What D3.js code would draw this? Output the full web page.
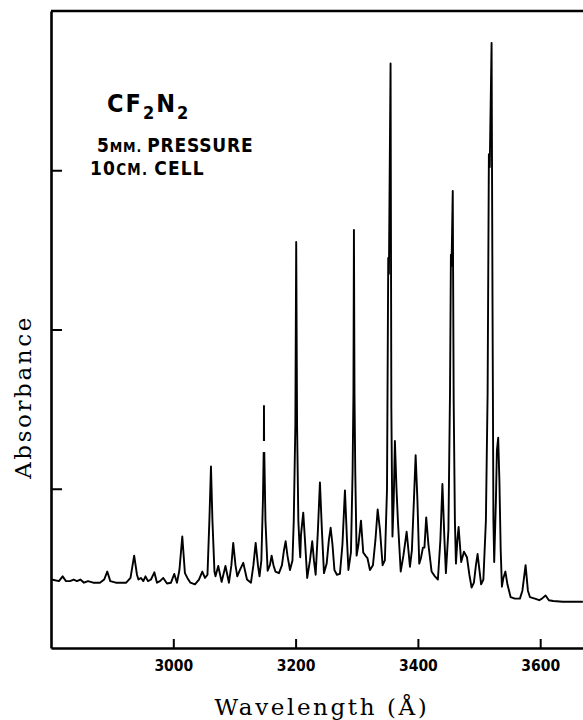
<!DOCTYPE html>
<html>
<head>
<meta charset="utf-8">
<script src="https://cdn.jsdelivr.net/npm/d3@7"></script>
<style>
  body { margin: 0; background: #fff; }
  .lbl { font-family: "DejaVu Sans Condensed", "DejaVu Sans", sans-serif; font-weight: bold; fill: #000; }
  .ttl { font-family: "DejaVu Serif", "Liberation Serif", serif; fill: #000; }
</style>
</head>
<body>
<div id="chart"></div>
<script>
// trace: wavelength in Angstrom, absorbance in arbitrary units (null = break in the ink)
var wavelength = [
  2801, 2813, 2819, 2824.5, 2831, 2837, 2842.5, 2848, 2854, 2860.5, 2869, 2880, 2887, 2892, 2897, 2906,
  2923, 2930, 2936, 2940.6, 2943, 2947, 2951, 2954.5, 2958.6, 2963.5, 2969, 2973.3, 2978.2, 2983.6, 2989.7,
  2996.2, 3001.6, 3006, 3010, 3014.7, 3019, 3023, 3028, 3035.4, 3042, 3047.4, 3051.8, 3055.9, 3059, 3061.6,
  3064, 3067.3, 3069, 3073.5, 3079, 3085.3, 3091, 3095, 3098, 3101.7, 3104.6, 3109, 3114.4, 3120.5, 3127,
  3131, 3134.7, 3138.4, 3141, 3144, 3146.6, 3147.8, 3147.9, 3148.1, 3148.3, 3148.5, 3148.7, 3148.8, 3150.7,
  3154.3, 3158, 3160.8, 3163.8, 3167, 3172.8, 3177.7, 3181, 3183.7, 3186.7, 3190.8, 3194.9, 3197, 3199.6,
  3201, 3202.4, 3204.5, 3206.3, 3207.6, 3208.8, 3212.5, 3215.3, 3219, 3223.5, 3227.2, 3230, 3232.8, 3236.5,
  3239.8, 3243, 3246.4, 3250.8, 3254.5, 3257.3, 3260.3, 3263.5, 3267.6, 3272.5, 3276.6, 3280.7, 3284, 3286.4,
  3290.5, 3293.2, 3294.6, 3295.4, 3296.3, 3297.6, 3299.8, 3302.8, 3306.9, 3310.6, 3314.2, 3317.5, 3321.6,
  3326.5, 3330.6, 3334.2, 3338, 3342.3, 3346, 3349.5, 3351.5, 3352.6, 3355.3, 3356.6, 3358.4, 3360.5, 3362.4,
  3364.9, 3367.3, 3371.9, 3376.3, 3381.6, 3384.5, 3387, 3390.2, 3393.5, 3396.3, 3399.2, 3402.2, 3405, 3408.2,
  3410.7, 3413.6, 3417.2, 3422.4, 3427.8, 3432.7, 3436.8, 3440.1, 3443.4, 3445.8, 3449.9, 3452.5, 3454, 3455,
  3457, 3458.5, 3460.5, 3462.2, 3464.6, 3466.6, 3468.7, 3470.8, 3475.3, 3480.2, 3484.2, 3487.8, 3491.6, 3494.9,
  3497.6, 3500.6, 3503.4, 3507.1, 3511.2, 3514, 3516.1, 3517.5, 3520.5, 3522, 3523.5, 3524.8, 3527.6, 3529.2,
  3531.3, 3533.3, 3535.4, 3537.4, 3539.8, 3543.1, 3546.4, 3551.6, 3558.6, 3566.8, 3570.9, 3576.1, 3579.9,
  3583.2, 3591.3, 3598.4, 3602.8, 3608.8, 3614.2, 3621.3, 3637.1, 3669.8
];
var absorbance = [
  0.43, 0.42, 0.45, 0.42, 0.42, 0.43, 0.42, 0.43, 0.41, 0.42, 0.41, 0.41, 0.43, 0.48, 0.42, 0.41,
  0.41, 0.44, 0.58, 0.46, 0.43, 0.44, 0.42, 0.45, 0.42, 0.43, 0.475, 0.41, 0.42, 0.44, 0.405,
  0.41, 0.465, 0.41, 0.49, 0.70, 0.47, 0.44, 0.41, 0.40, 0.43, 0.48, 0.44, 0.46, 0.80, 1.14,
  0.80, 0.48, 0.45, 0.515, 0.415, 0.515, 0.41, 0.52, 0.66, 0.52, 0.45, 0.49, 0.535, 0.43, 0.41,
  0.52, 0.66, 0.52, 0.45, 0.55, 0.93, 1.23, null, 1.30, 1.52, 1.30, null, 1.23, 0.80,
  0.485, 0.52, 0.58, 0.52, 0.48, 0.47, 0.52, 0.615, 0.67, 0.58, 0.49, 0.55, 0.80, 1.40,
  2.55, 1.40, 0.80, 0.65, 0.57, 0.71, 0.85, 0.68, 0.44, 0.55, 0.67, 0.55, 0.46, 0.74,
  1.04, 0.74, 0.47, 0.53, 0.68, 0.755, 0.65, 0.49, 0.46, 0.465, 0.65, 0.99, 0.68, 0.49,
  0.60, 1.10, 1.60, 2.625, 1.60, 1.10, 0.58, 0.65, 0.80, 0.60, 0.58, 0.565, 0.49,
  0.52, 0.68, 0.87, 0.74, 0.52, 0.55, 1.00, 2.45, 2.35, 3.67, 1.50, 0.70, 0.93, 1.30,
  1.01, 0.80, 0.48, 0.58, 0.73, 0.615, 0.51, 0.615, 0.93, 1.21, 0.93, 0.53, 0.565, 0.63,
  0.63, 0.82, 0.65, 0.48, 0.45, 0.43, 0.68, 1.03, 0.68, 0.47, 0.74, 1.60, 2.47, 2.40,
  2.87, 1.56, 0.80, 0.53, 0.68, 0.76, 0.65, 0.54, 0.605, 0.57, 0.46, 0.38, 0.41, 0.52,
  0.59, 0.49, 0.40, 0.43, 0.80, 1.60, 3.10, 3.02, 3.80, 2.19, 0.80, 0.54, 0.93, 1.24,
  1.32, 1.05, 0.615, 0.385, 0.44, 0.48, 0.40, 0.32, 0.31, 0.31, 0.36, 0.52, 0.36,
  0.32, 0.31, 0.30, 0.31, 0.33, 0.30, 0.295, 0.29, 0.29
];
var xTicks = [3000, 3200, 3400, 3600];
var yTicks = [1, 2, 3];

var margin = {top: 11, right: 0, bottom: 72, left: 51},
    width = 583 - margin.left - margin.right,
    height = 720 - margin.top - margin.bottom;

var x = d3.scaleLinear().domain([2800, 3670]).range([0, width]);
var y = d3.scaleLinear().domain([0, 4]).range([height, 0]);

var svg = d3.select("#chart").append("svg")
    .attr("width", 583)
    .attr("height", 720);

var g = svg.append("g")
    .attr("transform", "translate(" + margin.left + "," + margin.top + ")");

var points = wavelength.map(function (w, i) { return {w: w, a: absorbance[i]}; });

var line = d3.line()
    .defined(function (d) { return d.a !== null; })
    .x(function (d) { return x(d.w); })
    .y(function (d) { return y(d.a); });

g.append("path")
    .datum(points)
    .attr("fill", "none")
    .attr("stroke", "#000")
    .attr("stroke-width", 1.9)
    .attr("stroke-linejoin", "round")
    .attr("d", line);

// axes
var yAxis = g.append("g")
    .call(d3.axisLeft(y).tickValues(yTicks).tickSize(-11).tickSizeOuter(0).tickFormat(""));
var xAxis = g.append("g")
    .attr("transform", "translate(0," + height + ")")
    .call(d3.axisBottom(x).tickValues(xTicks).tickSize(-9).tickSizeOuter(0).tickPadding(12).tickFormat(d3.format("d")));

g.selectAll(".domain").attr("stroke", "#000").attr("stroke-width", 2.6);
g.selectAll(".tick line").attr("stroke", "#000").attr("stroke-width", 2);
xAxis.selectAll(".tick text")
    .attr("class", "lbl")
    .style("font-size", "15.5px");

// top frame line
g.append("line")
    .attr("x1", x(2800)).attr("x2", x(3670))
    .attr("y1", y(4)).attr("y2", y(4))
    .attr("stroke", "#000")
    .attr("stroke-width", 2.6);

// annotation
var t1 = svg.append("text").attr("class", "lbl").attr("x", 107).attr("y", 112).style("letter-spacing", "2px");
t1.append("tspan").style("font-size", "25px").text("CF");
t1.append("tspan").style("font-size", "18px").attr("dy", 7).text("2");
t1.append("tspan").style("font-size", "25px").attr("dy", -7).text("N");
t1.append("tspan").style("font-size", "18px").attr("dy", 7).text("2");

var t2 = svg.append("text").attr("class", "lbl").attr("x", 97).attr("y", 152).style("letter-spacing", "0.8px");
t2.append("tspan").style("font-size", "19px").text("5");
t2.append("tspan").style("font-size", "14px").text("MM. ");
t2.append("tspan").style("font-size", "19px").text("PRESSURE");

var t3 = svg.append("text").attr("class", "lbl").attr("x", 90).attr("y", 175).style("letter-spacing", "1.2px");
t3.append("tspan").style("font-size", "19px").text("10");
t3.append("tspan").style("font-size", "15px").text("CM. ");
t3.append("tspan").style("font-size", "19px").text("CELL");

// axis titles
svg.append("text")
    .attr("class", "ttl")
    .attr("x", 322)
    .attr("y", 715)
    .attr("text-anchor", "middle")
    .style("font-size", "23px")
    .style("letter-spacing", "2.6px")
    .text("Wavelength (Å)");

svg.append("text")
    .attr("class", "ttl")
    .attr("transform", "translate(31,397) rotate(-90)")
    .attr("text-anchor", "middle")
    .style("font-size", "23px")
    .style("letter-spacing", "2.6px")
    .text("Absorbance");
</script>
</body>
</html>
